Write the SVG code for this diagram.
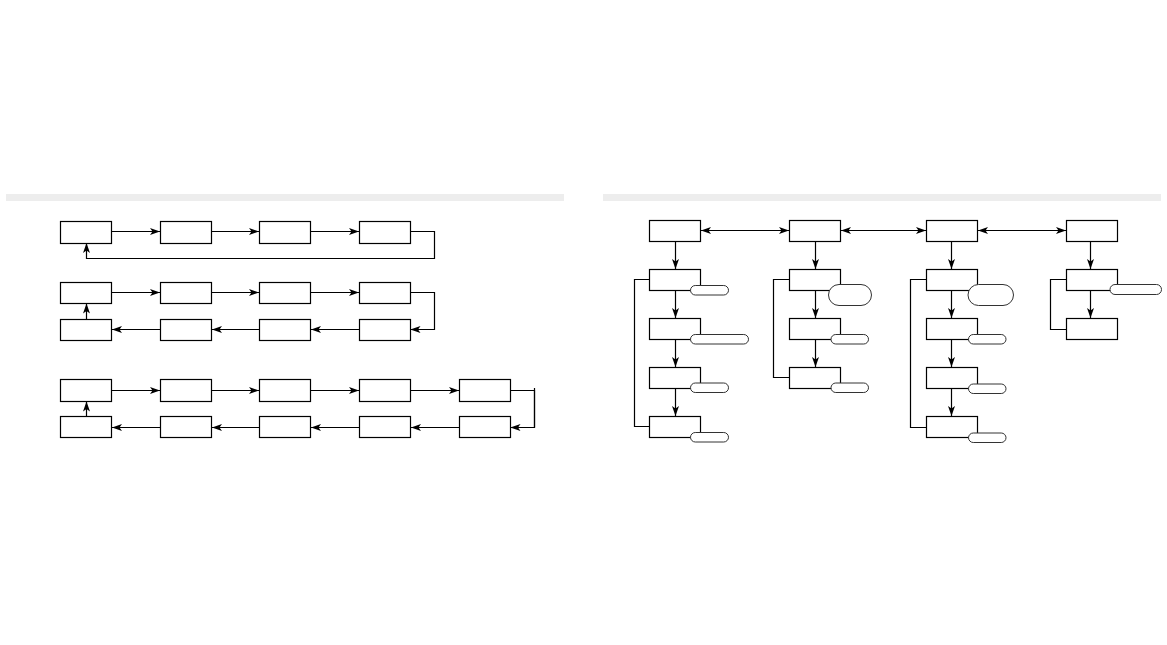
<svg xmlns="http://www.w3.org/2000/svg" width="1167" height="645" viewBox="0 0 1167 645">
<style>
.bar{fill:#ededed}
.box{fill:#fff;stroke:#000;stroke-width:1.2}
.pill{fill:#fff;stroke:#333;stroke-width:1}
.c{fill:none;stroke:#000;stroke-width:1.2}
.a{marker-end:url(#ah)}
.d{marker-start:url(#ah);marker-end:url(#ah)}
</style>
<defs>
<marker id="ah" viewBox="0 0 10 7" markerWidth="10" markerHeight="7" refX="10" refY="3.5" orient="auto-start-reverse" markerUnits="userSpaceOnUse">
<path d="M0,0 L10,3.5 L0,7 L2.5,3.5 z" fill="#000"/>
</marker>
</defs>
<rect width="1167" height="645" fill="#fff"/>
<rect class="bar" x="6" y="194" width="558" height="7"/>
<rect class="bar" x="603" y="194" width="558" height="7"/>

<g id="connectors">
<!-- left row 1 -->
<path class="c a" d="M111.5,231.5 H160"/>
<path class="c a" d="M211.5,231.5 H259"/>
<path class="c a" d="M310.5,231.5 H359"/>
<path class="c a" d="M410.5,231.5 H434.5 V258.5 H86.5 V243"/>
<!-- left row 2 -->
<path class="c a" d="M111.5,292.5 H160"/>
<path class="c a" d="M211.5,292.5 H259"/>
<path class="c a" d="M310.5,292.5 H359"/>
<path class="c a" d="M410.5,292.5 H434.5 V329.5 H410.5"/>
<path class="c a" d="M359,329.5 H311"/>
<path class="c a" d="M259,329.5 H212"/>
<path class="c a" d="M160,329.5 H112"/>
<path class="c a" d="M86.5,319 V303.5"/>
<!-- left row 3 -->
<path class="c a" d="M111.5,390.5 H160"/>
<path class="c a" d="M211.5,390.5 H259"/>
<path class="c a" d="M310.5,390.5 H359"/>
<path class="c a" d="M410.5,390.5 H459"/>
<path class="c" d="M534.5,388 V427.5"/>
<path class="c a" d="M510.5,390.5 H534.5 V427.5 H510.5"/>
<path class="c a" d="M459,427.5 H411"/>
<path class="c a" d="M359,427.5 H311"/>
<path class="c a" d="M259,427.5 H212"/>
<path class="c a" d="M160,427.5 H112"/>
<path class="c a" d="M86.5,416 V401.5"/>
<!-- right top -->
<path class="c d" d="M701,230.5 H789"/>
<path class="c d" d="M841,230.5 H926"/>
<path class="c d" d="M978,230.5 H1066"/>
<!-- col 1 -->
<path class="c a" d="M675.5,241.5 V269"/>
<path class="c a" d="M675.5,290.5 V318"/>
<path class="c a" d="M675.5,339.5 V367"/>
<path class="c a" d="M675.5,388.5 V416"/>
<path class="c" d="M649,279.5 H634.5 V426.5 H649"/>
<!-- col 2 -->
<path class="c a" d="M815.5,241.5 V269"/>
<path class="c a" d="M815.5,290.5 V318"/>
<path class="c a" d="M815.5,339.5 V367"/>
<path class="c" d="M789,279.5 H773.5 V377.5 H789"/>
<!-- col 3 -->
<path class="c a" d="M951.5,241.5 V269"/>
<path class="c a" d="M951.5,290.5 V318"/>
<path class="c a" d="M951.5,339.5 V367"/>
<path class="c a" d="M951.5,388.5 V416"/>
<path class="c" d="M926,279.5 H910.5 V427.5 H926"/>
<!-- col 4 -->
<path class="c a" d="M1090.5,241.5 V269"/>
<path class="c a" d="M1090.5,290.5 V318"/>
<path class="c" d="M1066,279.5 H1050.5 V329.5 H1066"/>
</g>

<!-- left panel nodes -->
<g id="L1a"><rect class="box" x="60.5" y="221.5" width="51" height="22"/></g>
<g id="L1b"><rect class="box" x="160.5" y="221.5" width="51" height="22"/></g>
<g id="L1c"><rect class="box" x="259.5" y="221.5" width="51" height="22"/></g>
<g id="L1d"><rect class="box" x="359.5" y="221.5" width="51" height="22"/></g>

<g id="L2a"><rect class="box" x="60.5" y="282.5" width="51" height="21"/></g>
<g id="L2b"><rect class="box" x="160.5" y="282.5" width="51" height="21"/></g>
<g id="L2c"><rect class="box" x="259.5" y="282.5" width="51" height="21"/></g>
<g id="L2d"><rect class="box" x="359.5" y="282.5" width="51" height="21"/></g>
<g id="L2e"><rect class="box" x="60.5" y="319.5" width="51" height="21"/></g>
<g id="L2f"><rect class="box" x="160.5" y="319.5" width="51" height="21"/></g>
<g id="L2g"><rect class="box" x="259.5" y="319.5" width="51" height="21"/></g>
<g id="L2h"><rect class="box" x="359.5" y="319.5" width="51" height="21"/></g>

<g id="L3a"><rect class="box" x="60.5" y="379.5" width="51" height="22"/></g>
<g id="L3b"><rect class="box" x="160.5" y="379.5" width="51" height="22"/></g>
<g id="L3c"><rect class="box" x="259.5" y="379.5" width="51" height="22"/></g>
<g id="L3d"><rect class="box" x="359.5" y="379.5" width="51" height="22"/></g>
<g id="L3e"><rect class="box" x="459.5" y="379.5" width="51" height="22"/></g>
<g id="L3f"><rect class="box" x="60.5" y="416.5" width="51" height="21"/></g>
<g id="L3g"><rect class="box" x="160.5" y="416.5" width="51" height="21"/></g>
<g id="L3h"><rect class="box" x="259.5" y="416.5" width="51" height="21"/></g>
<g id="L3i"><rect class="box" x="359.5" y="416.5" width="51" height="21"/></g>
<g id="L3j"><rect class="box" x="459.5" y="416.5" width="51" height="21"/></g>

<!-- right panel nodes -->
<g id="T1"><rect class="box" x="649.5" y="220.5" width="51" height="21"/></g>
<g id="T2"><rect class="box" x="789.5" y="220.5" width="51" height="21"/></g>
<g id="T3"><rect class="box" x="926.5" y="220.5" width="51" height="21"/></g>
<g id="T4"><rect class="box" x="1066.5" y="220.5" width="51" height="21"/></g>

<g id="C1a"><rect class="box" x="649.5" y="269.5" width="51" height="21"/><rect class="pill" x="690.5" y="285.5" width="38" height="9.5" rx="4.75"/></g>
<g id="C1b"><rect class="box" x="649.5" y="318.5" width="51" height="21"/><rect class="pill" x="690.5" y="334.5" width="58" height="9.5" rx="4.75"/></g>
<g id="C1c"><rect class="box" x="649.5" y="367.5" width="51" height="21"/><rect class="pill" x="690.5" y="383" width="38" height="9.5" rx="4.75"/></g>
<g id="C1d"><rect class="box" x="649.5" y="416.5" width="51" height="21"/><rect class="pill" x="690.5" y="432.5" width="38" height="9.5" rx="4.75"/></g>

<g id="C2a"><rect class="box" x="789.5" y="269.5" width="51" height="21"/><rect class="pill" x="828.5" y="284.5" width="43" height="21" rx="10.5"/></g>
<g id="C2b"><rect class="box" x="789.5" y="318.5" width="51" height="21"/><rect class="pill" x="831" y="334.5" width="37.5" height="9.5" rx="4.75"/></g>
<g id="C2c"><rect class="box" x="789.5" y="367.5" width="51" height="21"/><rect class="pill" x="831" y="383" width="37.5" height="9.5" rx="4.75"/></g>

<g id="C3a"><rect class="box" x="926.5" y="269.5" width="51" height="21"/><rect class="pill" x="968" y="284.5" width="45.5" height="21" rx="10.5"/></g>
<g id="C3b"><rect class="box" x="926.5" y="318.5" width="51" height="21"/><rect class="pill" x="968.5" y="334.5" width="37.5" height="9.5" rx="4.75"/></g>
<g id="C3c"><rect class="box" x="926.5" y="367.5" width="51" height="21"/><rect class="pill" x="968.5" y="384" width="37.5" height="9.5" rx="4.75"/></g>
<g id="C3d"><rect class="box" x="926.5" y="416.5" width="51" height="21"/><rect class="pill" x="968.5" y="433" width="37.5" height="9.5" rx="4.75"/></g>

<g id="C4a"><rect class="box" x="1066.5" y="269.5" width="51" height="21"/><rect class="pill" x="1110" y="284.5" width="51.5" height="10" rx="5"/></g>
<g id="C4b"><rect class="box" x="1066.5" y="318.5" width="51" height="21"/></g>
</svg>
